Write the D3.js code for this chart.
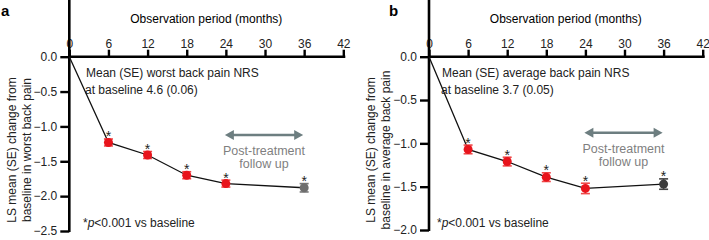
<!DOCTYPE html>
<html><head><meta charset="utf-8">
<script src="https://cdn.jsdelivr.net/npm/d3@7"></script>
<style>body{margin:0;background:#fff}svg{display:block;font-family:"Liberation Sans",Arial,sans-serif}</style>
</head><body><svg id="c" width="709" height="240"></svg>
<script>
const months = [0, 6, 12, 18, 24, 36];
const xTicks = [0, 6, 12, 18, 24, 30, 36, 42];
const worstMean = [0, -1.23, -1.41, -1.70, -1.82, -1.88];
const worstSE   = [0, 0.05, 0.05, 0.05, 0.05, 0.06];
const avgMean   = [0, -1.07, -1.21, -1.39, -1.52, -1.47];
const avgSE     = [0, 0.05, 0.05, 0.05, 0.06, 0.06];
const yTicksA = [0, -0.5, -1.0, -1.5, -2.0, -2.5];
const yTicksB = [0, -0.5, -1.0, -1.5, -2.0];

const svg = d3.select("#c");

function panel(o) {
  const g = svg.append("g");
  const x = d3.scaleLinear().domain([0, 42]).range([o.x0, o.x1]);
  const y = d3.scaleLinear().domain([0, o.ymin]).range([56.7, o.y1]);

  g.append("text").attr("x", o.lx).attr("y", 16).attr("font-size", 15).attr("font-weight", "bold").text(o.letter);
  g.append("text").attr("x", (o.x0 + o.x1) / 2).attr("y", 23).attr("text-anchor", "middle").attr("font-size", 12).text("Observation period (months)");

  const xa = g.append("g").attr("transform", `translate(0,${y(0)})`)
    .call(d3.axisTop(x).tickValues(xTicks).tickFormat(d3.format("d")).tickSize(7).tickPadding(2).tickSizeOuter(0));
  const ya = g.append("g").attr("transform", `translate(${x(0)},0)`)
    .call(d3.axisLeft(y).tickValues(o.yTicks).tickFormat(d3.format(".1f")).tickSize(9).tickPadding(3).tickSizeOuter(0));
  [xa, ya].forEach(a => {
    a.select(".domain").attr("stroke", "#000").attr("stroke-width", 2.6);
    a.selectAll(".tick line").attr("stroke", "#000").attr("stroke-width", 2.4);
    a.selectAll("text").attr("font-size", 12).attr("fill", "#222").attr("font-family", '"Liberation Sans",Arial,sans-serif');
  });
  xa.select(".domain").attr("d", `M${x(0) - 1},0H${x(42) + 2}`);
  ya.select(".domain").attr("d", `M0,-1V${o.y1 + 1}`);
  ya.selectAll(".tick text").text(d => d === 0 ? "0.0" : d3.format(".1f")(d));

  // y label
  const yl = g.append("text").attr("transform", `translate(${o.ylx},150) rotate(-90)`).attr("text-anchor", "middle").attr("font-size", 12).attr("fill", "#222");
  yl.append("tspan").attr("x", 0).attr("dy", 0).text("LS mean (SE) change from");
  yl.append("tspan").attr("x", 0).attr("dy", 14.5).text(o.ylab2);

  // annotation
  const an = g.append("text").attr("font-size", 12).attr("fill", "#222");
  an.append("tspan").attr("x", o.annX).attr("y", 76.5).text(o.ann1);
  an.append("tspan").attr("x", o.annX - 1).attr("y", 93.5).text(o.ann2);

  const pt = g.append("text").attr("x", o.pX).attr("y", 227).attr("font-size", 12).attr("fill", "#222");
  pt.append("tspan").text("*");
  pt.append("tspan").attr("font-style", "italic").text("p");
  pt.append("tspan").text("<0.001 vs baseline");

  // arrow
  const ac = "#6d7e80";
  const ay = o.arrowY, ax0 = x(24) - 1, ax1 = x(36) - 1;
  g.append("line").attr("x1", ax0 + 5).attr("x2", ax1 - 5).attr("y1", ay).attr("y2", ay).attr("stroke", ac).attr("stroke-width", 2.6);
  g.append("path").attr("d", `M${ax0},${ay}L${ax0 + 9},${ay - 5}L${ax0 + 9},${ay + 5}Z`).attr("fill", ac);
  g.append("path").attr("d", `M${ax1},${ay}L${ax1 - 9},${ay - 5}L${ax1 - 9},${ay + 5}Z`).attr("fill", ac);
  const ptx = g.append("text").attr("text-anchor", "middle").attr("font-size", 12.5).attr("fill", "#7f7f7f");
  ptx.append("tspan").attr("x", (ax0 + ax1) / 2).attr("y", o.arrowY + 20).text("Post-treatment");
  ptx.append("tspan").attr("x", (ax0 + ax1) / 2).attr("y", o.arrowY + 33).text("follow up");

  // line
  const data = months.map((m, i) => ({ m, v: o.mean[i], se: o.se[i], i }));
  g.append("path").datum(data).attr("fill", "none").attr("stroke", "#111").attr("stroke-width", 1.3)
    .attr("d", d3.line().x(d => x(d.m)).y(d => y(d.v)));

  const pts = data.filter(d => d.m > 0);
  const col = d => d.m === 36 ? o.lastCol : "#e8141c";
  const ecol = d => d.m === 36 ? o.lastErr : "#ef4a4a";
  pts.forEach(d => {
    const cx = x(d.m), top = y(d.v + d.se), bot = y(d.v - d.se);
    g.append("line").attr("x1", cx).attr("x2", cx).attr("y1", top).attr("y2", bot).attr("stroke", ecol(d)).attr("stroke-width", 1.5);
    [top, bot].forEach(yy => g.append("line").attr("x1", cx - 4.5).attr("x2", cx + 4.5).attr("y1", yy).attr("y2", yy).attr("stroke", ecol(d)).attr("stroke-width", 1.6));
    g.append("circle").attr("cx", cx).attr("cy", y(d.v)).attr("r", 4.5).attr("fill", col(d));
    g.append("text").attr("x", cx).attr("y", top + 2.5).attr("text-anchor", "middle").attr("font-size", 14).attr("fill", "#222").text("*");
  });
}

panel({ letter: "a", lx: 1, x0: 69.3, x1: 343.3, ymin: -2.5, y1: 231, yTicks: yTicksA, ylx: 16, ylab2: "baseline in worst back pain",
  ann1: "Mean (SE) worst back pain NRS", ann2: "at baseline 4.6 (0.06)", annX: 86, pX: 83,
  arrowY: 135, mean: worstMean, se: worstSE, lastCol: "#6e6e6e", lastErr: "#777" });
panel({ letter: "b", lx: 389, x0: 429, x1: 702.7, ymin: -2.0, y1: 230, yTicks: yTicksB, ylx: 375, ylab2: "baseline in average back pain",
  ann1: "Mean (SE) average back pain NRS", ann2: "at baseline 3.7 (0.05)", annX: 442, pX: 437,
  arrowY: 132.7, mean: avgMean, se: avgSE, lastCol: "#3c3c3c", lastErr: "#444" });
</script></body></html>
